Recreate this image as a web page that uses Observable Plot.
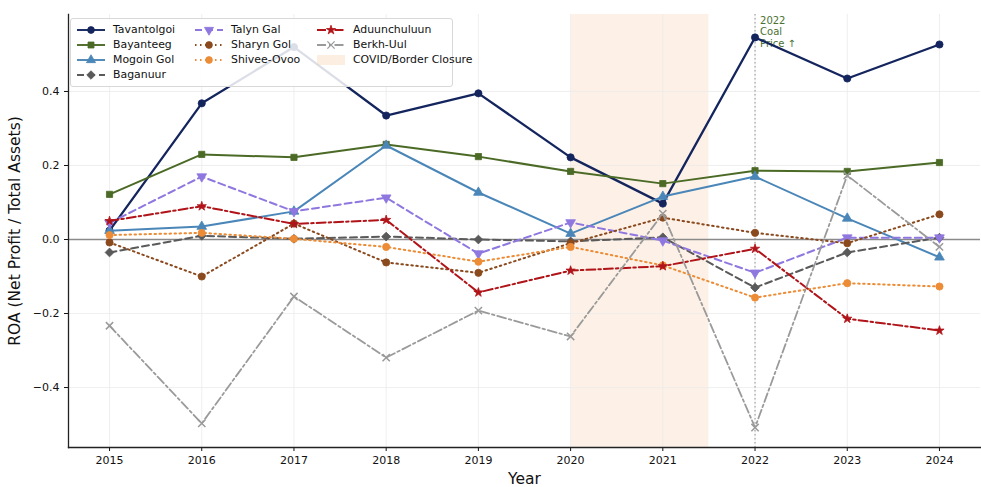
<!DOCTYPE html>
<html>
<head>
<meta charset="utf-8">
<script src="https://cdn.jsdelivr.net/npm/d3@7"></script>
<script src="https://cdn.jsdelivr.net/npm/@observablehq/plot@0.6"></script>
<style>
  body { margin: 0; background: #fff; font-family: "DejaVu Sans", sans-serif; }
  #wrap { position: relative; width: 981px; height: 487px; }
  #legend {
    position: absolute; left: 70px; top: 18px;
    background: rgba(255,255,255,0.85); border: 1px solid #d8d8d8; border-radius: 3px;
    padding: 3px 6px 4px 5px; display: grid; grid-template-columns: 118px 122px 130px;
    grid-auto-flow: column; grid-template-rows: repeat(4, 15px);
    font-size: 10.9px; color: #111; line-height: 15px;
  }
  #legend .item { display: flex; align-items: center; white-space: nowrap; }
  #legend svg { margin-right: 7px; flex: none; }
</style>
</head>
<body>
<div id="wrap"><div id="legend"></div></div>
<script>
// Return on assets per mine, 2015–2024
const years = [2015, 2016, 2017, 2018, 2019, 2020, 2021, 2022, 2023, 2024];

const tavantolgoi  = [0.024, 0.368, 0.520, 0.335, 0.395, 0.222, 0.097, 0.546, 0.435, 0.527];
const bayanteeg    = [0.122, 0.230, 0.222, 0.257, 0.224, 0.184, 0.151, 0.186, 0.184, 0.208];
const mogoinGol    = [0.024, 0.035, 0.076, 0.254, 0.127, 0.016, 0.116, 0.170, 0.057, -0.048];
const baganuur     = [-0.035, 0.010, 0.002, 0.008, 0.000, -0.005, 0.006, -0.130, -0.035, 0.005];
const talynGal     = [0.045, 0.170, 0.076, 0.113, -0.038, 0.046, -0.003, -0.090, 0.005, 0.005];
const sharynGol    = [-0.008, -0.100, 0.043, -0.062, -0.090, -0.010, 0.059, 0.018, -0.010, 0.068];
const shiveeOvoo   = [0.012, 0.018, 0.002, -0.020, -0.060, -0.020, -0.070, -0.157, -0.118, -0.127];
const aduunchuluun = [0.050, 0.090, 0.042, 0.053, -0.143, -0.084, -0.072, -0.025, -0.214, -0.246];
const berkhUul     = [-0.233, -0.497, -0.154, -0.319, -0.192, -0.262, 0.070, -0.508, 0.173, -0.020];

const yTicks = [-0.4, -0.2, 0.0, 0.2, 0.4];
const covidPeriod = {start: 2020, end: 2021.5, label: "COVID/Border Closure"};
const coalNote = {year: 2022, text: "2022\nCoal\nPrice \u2191"};

// Drawing style for each series
const series = [
  {name: "Tavantolgoi",  values: tavantolgoi,  color: "#14255e", dash: null,        symbol: "circle",   rotate: 0,   width: 2.3, r: 3.6},
  {name: "Bayanteeg",    values: bayanteeg,    color: "#4b6a26", dash: null,        symbol: "square",   rotate: 0,   width: 2.0, r: 3.5},
  {name: "Mogoin Gol",   values: mogoinGol,    color: "#4a86b8", dash: null,        symbol: "triangle", rotate: 0,   width: 2.0, r: 3.6},
  {name: "Baganuur",     values: baganuur,     color: "#5a5a5a", dash: "7,4",       symbol: "square",   rotate: 45,  width: 2.0, r: 3.5},
  {name: "Talyn Gal",    values: talynGal,     color: "#8f77e0", dash: "7,4",       symbol: "triangle", rotate: 180, width: 2.0, r: 3.6},
  {name: "Sharyn Gol",   values: sharynGol,    color: "#8b4a1e", dash: "1.5,3.5",   symbol: "circle",   rotate: 0,   width: 2.0, r: 3.6},
  {name: "Shivee-Ovoo",  values: shiveeOvoo,   color: "#ec8c36", dash: "1.5,3.5",   symbol: "circle",   rotate: 0,   width: 2.0, r: 3.6},
  {name: "Aduunchuluun", values: aduunchuluun, color: "#b01419", dash: "9,3,2.5,3", symbol: "star",     rotate: 0,   width: 2.0, r: 2.9},
  {name: "Berkh-Uul",    values: berkhUul,     color: "#9a9a9a", dash: "9,3,2.5,3", symbol: "times",    rotate: 0,   width: 1.8, r: 3.4}
];

const rows = series.flatMap(s => s.values.map((v, i) => ({name: s.name, year: years[i], roa: v})));

const marks = [
  Plot.rect([covidPeriod], {x1: "start", x2: "end", fill: "#f6c9a0", fillOpacity: 0.25}),
  Plot.gridX(years, {stroke: "#ebebeb", strokeOpacity: 1, strokeWidth: 0.8}),
  Plot.gridY(yTicks, {stroke: "#ebebeb", strokeOpacity: 1, strokeWidth: 0.8}),
  Plot.ruleY([0], {stroke: "#8a8a8a", strokeWidth: 1.3}),
  Plot.ruleX([coalNote.year], {stroke: "#9a9a9a", strokeWidth: 1.1, strokeDasharray: "1.5,2.5"}),
  Plot.text([coalNote], {x: "year", text: "text", frameAnchor: "top", textAnchor: "start",
    lineAnchor: "top", dx: 5, dy: 1, fill: "#4a7232", fontSize: 10, lineHeight: 1.15})
];

for (const s of series) {
  const d = rows.filter(r => r.name === s.name);
  marks.push(Plot.line(d, {x: "year", y: "roa", stroke: s.color, strokeWidth: s.width,
    strokeDasharray: s.dash || undefined, strokeLinejoin: "miter"}));
  marks.push(Plot.dot(d, {x: "year", y: "roa", symbol: () => s.symbol, rotate: s.rotate, r: s.r,
    fill: s.symbol === "times" ? "none" : s.color,
    stroke: s.color, strokeWidth: s.symbol === "times" ? 1.5 : 0.8}));
}

marks.push(
  Plot.axisX(years, {tickFormat: d => String(d), tickSize: 4, tickPadding: 5, fontSize: 11,
    label: "Year", labelAnchor: "center", labelArrow: "none", labelOffset: 36, color: "#111"}),
  Plot.axisY(yTicks, {tickFormat: d3.format(".1f"), tickSize: 4, tickPadding: 5, fontSize: 11,
    label: "ROA (Net Profit / Total Assets)", labelAnchor: "center", labelArrow: "none", labelOffset: 60, color: "#111"}),
  Plot.frame({anchor: "left", stroke: "#222", strokeWidth: 1.3}),
  Plot.frame({anchor: "bottom", stroke: "#222", strokeWidth: 1.3})
);

const chart = Plot.plot({
  width: 981,
  height: 487,
  marginLeft: 68,
  marginRight: 1,
  marginTop: 14,
  marginBottom: 40,
  style: {fontFamily: "DejaVu Sans, sans-serif", background: "#fff", overflow: "visible"},
  x: {domain: [2014.555, 2024.445]},
  y: {domain: [-0.562, 0.608]},
  symbol: {type: "identity"},
  marks
});

// Enlarge axis titles to match the chart's label size
chart.querySelectorAll("g[aria-label='x-axis label'] text, g[aria-label='y-axis label'] text")
  .forEach(t => t.setAttribute("font-size", "15.5"));

const wrap = document.getElementById("wrap");
wrap.insertBefore(chart, wrap.firstChild);

// Legend drawn inside the plot area, three columns
const legend = document.getElementById("legend");
const ns = "http://www.w3.org/2000/svg";
function swatch(s) {
  const svg = document.createElementNS(ns, "svg");
  svg.setAttribute("width", 30); svg.setAttribute("height", 12);
  const line = document.createElementNS(ns, "line");
  line.setAttribute("x1", 1); line.setAttribute("x2", 29); line.setAttribute("y1", 6); line.setAttribute("y2", 6);
  line.setAttribute("stroke", s.color); line.setAttribute("stroke-width", 1.9);
  if (s.dash) line.setAttribute("stroke-dasharray", s.dash);
  svg.appendChild(line);
  const g = document.createElementNS(ns, "path");
  const sym = {circle: d3.symbolCircle, square: d3.symbolSquare, triangle: d3.symbolTriangle,
    star: d3.symbolStar, times: d3.symbolTimes}[s.symbol];
  g.setAttribute("d", d3.symbol(sym, s.symbol === "star" ? 26 : 36)());
  g.setAttribute("transform", `translate(15,6) rotate(${s.rotate})`);
  g.setAttribute("fill", s.symbol === "times" ? "none" : s.color);
  g.setAttribute("stroke", s.color);
  g.setAttribute("stroke-width", s.symbol === "times" ? 1.3 : 0.8);
  svg.appendChild(g);
  return svg;
}
function addItem(sw, label) {
  const div = document.createElement("div");
  div.className = "item";
  div.appendChild(sw);
  div.appendChild(document.createTextNode(label));
  legend.appendChild(div);
}
const order = [0, 1, 2, 3, 4, 5, 6, null, 7, 8, "covid"];
for (const k of order) {
  if (k === null) { legend.appendChild(document.createElement("div")); continue; }
  if (k === "covid") {
    const svg = document.createElementNS(ns, "svg");
    svg.setAttribute("width", 30); svg.setAttribute("height", 12);
    const r = document.createElementNS(ns, "rect");
    r.setAttribute("x", 1); r.setAttribute("y", 1); r.setAttribute("width", 28); r.setAttribute("height", 10);
    r.setAttribute("fill", "#f6c9a0"); r.setAttribute("fill-opacity", 0.3);
    svg.appendChild(r);
    addItem(svg, covidPeriod.label);
    continue;
  }
  addItem(swatch(series[k]), series[k].name);
}
</script>
</body>
</html>
